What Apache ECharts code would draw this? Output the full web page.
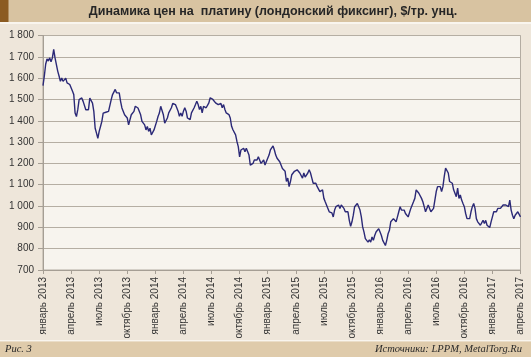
<!DOCTYPE html>
<html><head><meta charset="utf-8">
<script src="https://cdn.jsdelivr.net/npm/echarts@6/dist/echarts.min.js"></script>
<style>html,body{margin:0;padding:0;background:#eee6da}#c{width:531px;height:357px}</style>
</head><body><div id="c"></div>
<script>
const titleText = 'Динамика цен на  платину (лондонский фиксинг), $/тр. унц.';
const figureLabel = 'Рис. 3';
const sourceLabel = 'Источники: LPPM, MetalTorg.Ru';

const xTickLabels = [
  'январь 2013','апрель 2013','июль 2013','октябрь 2013',
  'январь 2014','апрель 2014','июль 2014','октябрь 2014',
  'январь 2015','апрель 2015','июль 2015','октябрь 2015',
  'январь 2016','апрель 2016','июль 2016','октябрь 2016',
  'январь 2017','апрель 2017'
];
const yTickValues = [700,800,900,1000,1100,1200,1300,1400,1500,1600,1700,1800];
const yTickLabels = ['700','800','900','1 000','1 100','1 200','1 300','1 400','1 500','1 600','1 700','1 800'];

// price samples, one every 1/7 month starting January 2013
const sampleStepMonths = 1 / 7;
const prices = [
  1565,1610,1665,1690,1680,1695,1677,1695,1735,1695,
  1688,1633,1610,1585,1600,1585,1594,1600,1578,1581,
  1570,1570,1540,1523,1436,1420,1452,1499,1491,1507,
  1491,1483,1452,1460,1452,1507,1515,1483,1444,1365,
  1342,1318,1350,1373,1397,1436,1428,1440,1436,1444,
  1452,1499,1523,1531,1547,1531,1523,1531,1491,1460,
  1468,1428,1420,1413,1381,1384,1428,1420,1444,1468,
  1475,1460,1452,1428,1397,1405,1381,1357,1373,1350,
  1365,1334,1326,1357,1365,1397,1420,1436,1468,1460,
  1428,1389,
  1397,1413,1437,1437,1461,1481,1484,1476,1461,1445,
  1421,1437,1421,1445,1461,1445,1413,1421,1405,1437,
  1445,1461,1476,1492,1476,1453,1468,1437,1468,1476,
  1461,1468,1484,1508,1516,1500,1497,1484,1492,1476,
  1468,1481,1461,1476,1453,1437,1429,1429,1413,1374,
  1358,1350,1334,1303,1279,1231,1263,1255,1271,1255,
  1271,1263,1239,1192,1184,1200,1216,1224,1216,1231,
  1224,1200,1208,1216,1192,1200,1224,1239,1263,1271,
  1282,1263,1239,1224,1231,1208,1200,1176,1168,
  1163,1115,1131,1091,1115,1147,1155,1163,1163,1170,
  1163,1155,1147,1131,1155,1136,1139,1155,1170,1155,
  1131,1107,1115,1107,1091,1084,1068,1060,1076,1036,
  1020,1012,989,973,981,968,949,981,997,989,
  1005,989,1005,997,989,973,965,973,933,905,
  926,957,997,1005,1012,1005,981,949,902,878,
  847,839,831,842,831,855,839,862,878,886,
  894,878,862,839,831,815,839,870,886,926,
  933,941,933,926,949,973,997,981,989,981,
  965,973,949,957,989,981,1020,1036,1076,1084,
  1060,1052,1036,1020,997,973,981,1005,997,973,
  965,989,997,1068,1091,1084,1091,1068,1091,1139,
  1178,1186,1155,1115,1123,1107,1076,1060,1044,1084,
  1036,1052,1028,1012,997,965,941,933,941,973,
  997,1012,989,941,926,926,910,918,933,918,
  933,910,918,899,926,949,973,981,973,989,
  981,989,981,1005,997,1005,1012,997,1028,981,
  957,941,957,949,973,965,949
];

const seriesData = prices.map((p, i) => [i * sampleStepMonths, p]);

const chart = echarts.init(document.getElementById('c'), null, {renderer: 'canvas'});
const axisGrey = '#a59e94';
chart.setOption({
  animation: false,
  backgroundColor: '#eee6da',
  textStyle: {fontFamily: 'Liberation Sans, Arial, sans-serif'},
  grid: {
    left: 43, right: 10.5, top: 35.5, bottom: 87,
    show: true, backgroundColor: '#f7f4ee', borderColor: '#b3aca2', borderWidth: 1
  },
  xAxis: {
    type: 'value', min: 0, max: 51, interval: 3,
    axisLine: {show: true, lineStyle: {color: axisGrey, width: 1}},
    axisTick: {show: true, length: 4, lineStyle: {color: axisGrey}},
    splitLine: {show: false},
    axisLabel: {
      rotate: 90, fontSize: 10, color: '#333', margin: 7,
      fontFamily: 'Liberation Sans, Arial, sans-serif',
      formatter: v => xTickLabels[Math.round(v / 3)] || ''
    }
  },
  yAxis: {
    type: 'value', min: 700, max: 1800, interval: 100,
    axisLine: {show: true, lineStyle: {color: axisGrey, width: 1}},
    axisTick: {show: true, length: 5, lineStyle: {color: axisGrey}},
    splitLine: {show: true, lineStyle: {color: '#b5aea3', width: 1}},
    axisLabel: {
      fontSize: 10, color: '#333', margin: 9,
      fontFamily: 'Liberation Sans, Arial, sans-serif',
      formatter: v => { const k = yTickValues.indexOf(v); return k >= 0 ? yTickLabels[k] : ''; }
    }
  },
  series: [{
    type: 'line', data: seriesData, showSymbol: false, symbol: 'none',
    lineStyle: {color: '#2b2977', width: 1.4}
  }],
  graphic: [
    {type: 'rect', shape: {x: 0, y: 0, width: 531, height: 22}, style: {fill: '#d8c3a1'}, silent: true},
    {type: 'rect', shape: {x: 0, y: 0, width: 8.5, height: 22}, style: {fill: '#8c5b21'}, silent: true},
    {type: 'rect', shape: {x: 0, y: 22, width: 531, height: 2}, style: {fill: '#f9f5ee'}, silent: true},
    {type: 'rect', shape: {x: 0, y: 340, width: 531, height: 1.5}, style: {fill: '#f9f5ee'}, silent: true},
    {type: 'rect', shape: {x: 0, y: 341.5, width: 531, height: 16}, style: {fill: '#dfcbab'}, silent: true},
    {type: 'text', silent: true, style: {
      text: titleText, x: 273, y: 11.5, textAlign: 'center', textVerticalAlign: 'middle',
      align: 'center', verticalAlign: 'middle',
      font: 'bold 12.5px "Liberation Sans", Arial, sans-serif', fill: '#262626'}},
    {type: 'text', silent: true, style: {
      text: figureLabel, x: 5, y: 349.5, textAlign: 'left', textVerticalAlign: 'middle',
      align: 'left', verticalAlign: 'middle',
      font: 'italic 10.5px "Liberation Serif", "Times New Roman", serif', fill: '#2a2a2a'}},
    {type: 'text', silent: true, style: {
      text: sourceLabel, x: 522, y: 349.5, textAlign: 'right', textVerticalAlign: 'middle',
      align: 'right', verticalAlign: 'middle',
      font: 'italic 10.5px "Liberation Serif", "Times New Roman", serif', fill: '#2a2a2a'}}
  ]
});
</script>
</body></html>
